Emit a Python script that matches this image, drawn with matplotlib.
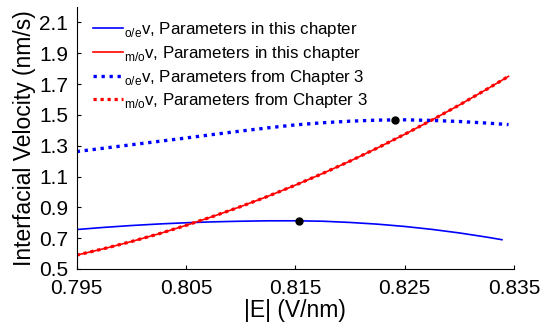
import matplotlib
matplotlib.use("Agg")
import matplotlib.pyplot as plt

plt.rcParams['font.family'] = ['Liberation Sans', 'DejaVu Sans']
plt.rcParams['mathtext.fontset'] = 'custom'
plt.rcParams['mathtext.rm'] = 'Liberation Sans'

# field strength |E| (V/nm)
E = [0.795, 0.7975, 0.800, 0.8025, 0.805, 0.8075, 0.810, 0.8125, 0.815,
     0.8175, 0.820, 0.8225, 0.825, 0.8275, 0.830, 0.8325, 0.8345]

# m/o interface velocity (nm/s), same for both parameter sets
v_mo = [0.590, 0.632, 0.678, 0.728, 0.783, 0.842, 0.905, 0.972, 1.044,
        1.120, 1.200, 1.285, 1.374, 1.467, 1.564, 1.666, 1.750]

# o/e interface velocity, parameters in this chapter
E_oe = [0.795, 0.7975, 0.800, 0.8025, 0.805, 0.8075, 0.810, 0.8125, 0.815,
        0.8175, 0.820, 0.8225, 0.825, 0.8275, 0.830, 0.8325, 0.8339]
v_oe = [0.756, 0.770, 0.782, 0.792, 0.800, 0.806, 0.810, 0.8127, 0.8128,
        0.810, 0.802, 0.791, 0.776, 0.757, 0.734, 0.707, 0.690]

# o/e interface velocity, parameters from chapter 3
v_oe3 = [1.262, 1.284, 1.306, 1.328, 1.350, 1.373, 1.395, 1.416, 1.435,
         1.449, 1.459, 1.466, 1.468, 1.464, 1.457, 1.447, 1.437]

# maxima of the o/e curves
peak_E = [0.8153, 0.8241]
peak_v = [0.813, 1.468]

labels = [r'$_{\mathregular{o/e}}$v, Parameters in this chapter',
          r'$_{\mathregular{m/o}}$v, Parameters in this chapter',
          r'$_{\mathregular{o/e}}$v, Parameters from Chapter 3',
          r'$_{\mathregular{m/o}}$v, Parameters from Chapter 3']

fig = plt.figure(figsize=(5.45, 3.33), dpi=100)
ax = fig.add_axes([0.1407, 0.1922, 0.8024, 0.7868])

ax.plot(E_oe, v_oe, color='#0000ff', lw=1.2, label=labels[0])
ax.plot(E, v_mo, color='#ff0000', lw=1.2, label=labels[1])
ax.plot(E, v_oe3, color='#0000ff', lw=2.4, dashes=(1, 1.4), label=labels[2])
ax.plot(E, v_mo, color='#ff0000', lw=2.3, dashes=(1, 1.2), label=labels[3])
ax.plot(peak_E, peak_v, 'o', color='black', ms=5, zorder=5)

ax.set_xlim(0.795, 0.835)
ax.set_ylim(0.5, 2.2)
ax.set_xticks([0.795, 0.805, 0.815, 0.825, 0.835])
ax.set_yticks([0.5, 0.7, 0.9, 1.1, 1.3, 1.5, 1.7, 1.9, 2.1])
ax.set_xticklabels(['0.795', '0.805', '0.815', '0.825', '0.835'])
ax.set_yticklabels(['0.5', '0.7', '0.9', '1.1', '1.3', '1.5', '1.7', '1.9', '2.1'])

ax.spines['top'].set_visible(False)
ax.spines['right'].set_visible(False)
for s in ['left', 'bottom']:
    ax.spines[s].set_linewidth(0.8)
ax.tick_params(direction='in', length=3, width=0.8, labelsize=15)
ax.tick_params(axis='y', pad=6)
ax.tick_params(axis='x', pad=7)

ax.set_xlabel('|E| (V/nm)', fontsize=16.5, labelpad=1)
ax.set_ylabel('Interfacial Velocity (nm/s)', fontsize=16.5, labelpad=2)

ax.legend(loc='upper left', bbox_to_anchor=(0.01, 0.995), frameon=False,
          fontsize=12.2, handlelength=1.75, handletextpad=0.1,
          labelspacing=0.28, borderaxespad=0.3)

fig.savefig('out.png', dpi=100)
